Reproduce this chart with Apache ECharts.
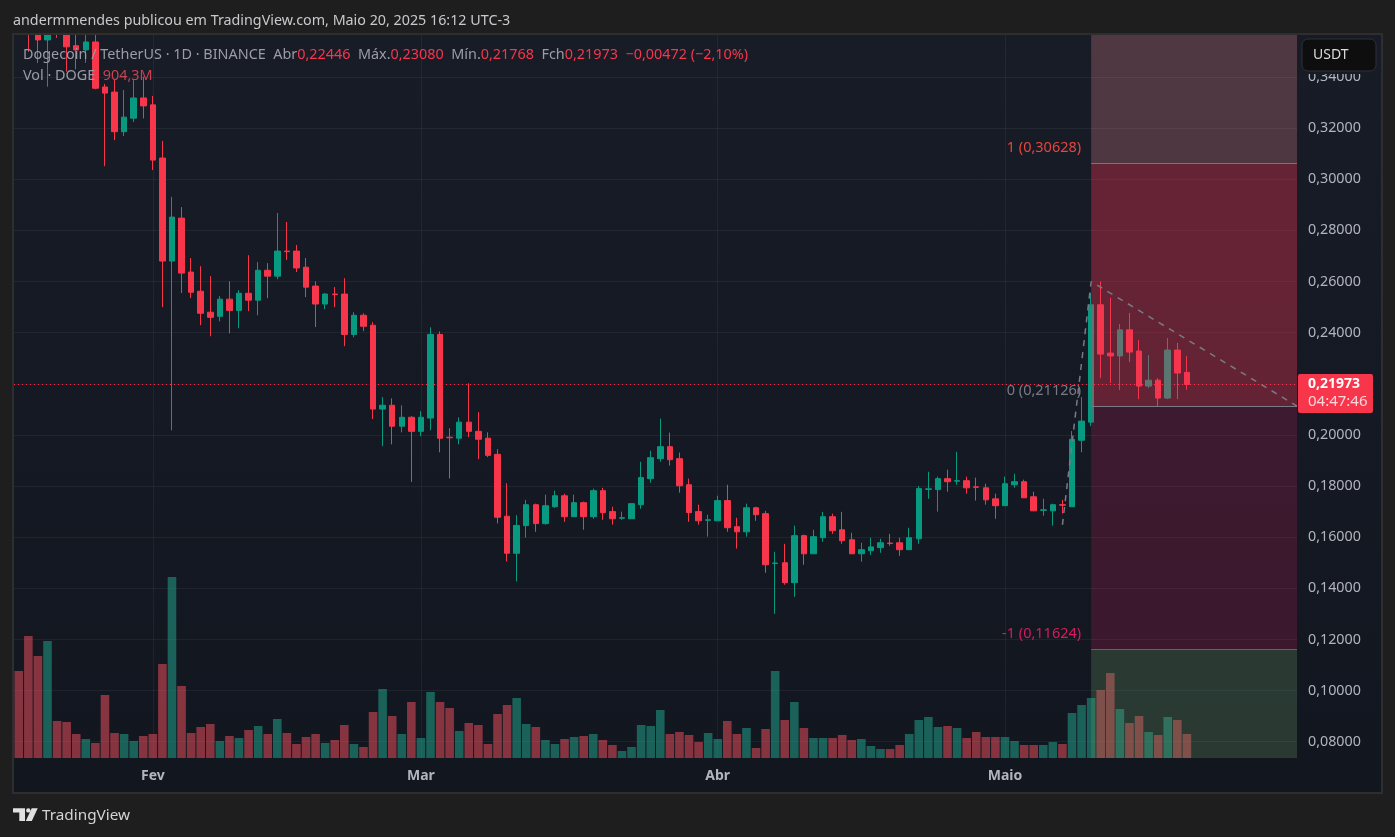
<!DOCTYPE html>
<html>
<head>
<meta charset="utf-8">
<title>DOGE/USDT</title>
<style>
  html, body { margin: 0; padding: 0; background: #1e1e1e; }
  #main { width: 1395px; height: 837px; }
</style>
<script src="https://cdn.jsdelivr.net/npm/echarts@6/dist/echarts.min.js"></script>
</head>
<body>
<div id="main"></div>
<script>
const FONT = '"Noto Sans", sans-serif';

// daily candles from 18 Jan. the first few run above the visible pane
const opens = [
  .39, .375, .368, .3545, .375, .372, .35224, .3506, .3537, .3361,
  .3341, .3186, .3239, .3318, .3291, .3083, .268, .2848, .2637, .2562,
  .248, .2464, .2531, .2487, .2554, .2527, .2644, .2621, .2719, .2719,
  .2656, .2582, .2512, .2551, .2551, .2393, .2468, .2429, .2101, .2116,
  .2034, .2069, .2014, .2066, .2393, .1991, .1987, .205, .2014, .1987,
  .1924, .1682, .1537, .1645, .1727, .1653, .1719, .1762, .168, .1735,
  .168, .1782, .17, .1674, .1672, .1727, .1829, .1907, .1954, .1907,
  .1805, .17, .1666, .1664, .1743, .1641, .1621, .1715, .1692, .1497,
  .15, .1422, .1606, .1535, .1598, .168, .1629, .159, .1535, .1547,
  .1559, .1577, .1578, .1551, .1594, .1787, .1786, .1829, .1819, .1821,
  .1797, .1793, .175, .1723, .1805, .1817, .1758, .1705, .1703, .1727,
  .1719, .1979, .205, .2509, .232, .2309, .2411, .2328, .2191, .2214,
  .2144, .2332, .22446
];
const closes = [
  .375, .36, .3545, .37, .365, .3518, .35056, .3537, .3356, .3337,
  .3186, .3243, .3318, .3287, .3075, .268, .2852, .2633, .2558, .2476,
  .246, .2531, .2487, .2554, .2527, .2644, .2621, .2719, .2717, .2653,
  .2578, .2512, .2551, .2549, .2393, .2468, .2425, .2101, .2116, .2034,
  .2069, .2014, .2069, .2393, .1987, .1989, .205, .2014, .1983, .192,
  .1678, .1537, .1646, .1727, .1653, .1723, .1762, .168, .1735, .168,
  .1782, .1696, .1672, .1676, .1731, .1833, .1911, .1954, .1903, .1801,
  .1696, .1664, .1668, .1743, .1637, .1621, .1715, .1688, .1492, .1499,
  .1422, .1606, .1535, .1602, .168, .1625, .1586, .1535, .1551, .1562,
  .1578, .1575, .1551, .1598, .179, .1789, .1829, .1817, .1821, .1793,
  .1795, .1746, .1723, .1809, .1817, .1754, .1703, .1707, .1727, .1725,
  .1983, .2054, .2509, .2316, .2309, .2411, .2324, .2191, .2214, .2144,
  .2332, .2242, .21973
];
const lows = [
  .36, .3498, .3455, .3362, .3553, .3421, .343, .3455, .3352, .3051,
  .3153, .3169, .3224, .3238, .3036, .25, .2018, .2555, .2535, .2429,
  .2386, .2444, .2397, .2417, .2484, .2468, .2535, .2609, .2684, .2637,
  .2539, .2422, .2492, .25, .2347, .2382, .2406, .2062, .1956, .1963,
  .201, .1816, .1995, .2018, .1932, .183, .1963, .1991, .1905, .1913,
  .1654, .1505, .1427, .1598, .1621, .1649, .1715, .166, .168, .1629,
  .1672, .1668, .1649, .1668, .1672, .1711, .1813, .1895, .188, .1774,
  .166, .1649, .1602, .1664, .1621, .1555, .1602, .1664, .1461, .13,
  .1414, .1367, .1492, .1535, .1582, .1613, .1574, .1535, .1504, .1531,
  .1539, .1566, .1527, .1551, .1574, .175, .17, .1778, .1805, .177,
  .1743, .1727, .1672, .1723, .1793, .1754, .1703, .1684, .1645, .1692,
  .1719, .1932, .2034, .2222, .2203, .2175, .2285, .214, .2183, .2112,
  .214, .214, .21768
];
const highs = [
  .395, .38, .372, .375, .378, .375, .362, .365, .362, .3373,
  .3391, .3349, .3388, .3401, .3326, .315, .2931, .2891, .2692, .266,
  .2621, .2543, .2601, .2566, .2703, .2676, .2672, .2868, .2833, .2743,
  .2692, .2601, .2555, .2578, .2613, .248, .2476, .2441, .2148, .2143,
  .2116, .2073, .2093, .2421, .2405, .2026, .2069, .2202, .2089, .201,
  .1944, .1811, .1686, .1746, .1731, .1766, .1782, .177, .1766, .1739,
  .179, .1793, .1719, .17, .1731, .1895, .1938, .2064, .2009, .1931,
  .1829, .1727, .1688, .1762, .1805, .1676, .1731, .1719, .1703, .1543,
  .1574, .1645, .161, .1629, .1699, .1692, .1699, .1617, .1578, .1598,
  .1594, .1613, .1598, .1637, .18, .1856, .1837, .1864, .1934, .1837,
  .1833, .1809, .177, .1837, .1848, .1825, .1778, .175, .1731, .1746,
  .2015, .2148, .2555, .26, .2536, .2434, .2477, .2371, .2312, .2222,
  .2379, .236, .2308
];
// volume, millions of DOGE
const volumes = [
  3278, 4597, 3843, 4409, 1394, 1356, 904, 716, 565, 2374,
  942, 904, 641, 829, 904, 3542, 6820, 2713, 942, 1168,
  1281, 641, 829, 754, 1055, 1206, 904, 1470, 942, 528,
  791, 904, 565, 678, 1243, 528, 414, 1733, 2600, 1583,
  904, 2110, 754, 2487, 2110, 1884, 1017, 1319, 1243, 528,
  1658, 1997, 2261, 1281, 1168, 678, 528, 716, 791, 829,
  904, 678, 490, 264, 414, 1243, 1206, 1809, 904, 980,
  867, 603, 942, 716, 1394, 904, 1130, 377, 1093, 3278,
  1432, 2110, 1130, 754, 754, 754, 867, 678, 716, 452,
  339, 339, 490, 904, 1432, 1545, 1168, 1206, 1130, 754,
  980, 791, 791, 791, 641, 490, 490, 490, 603, 528,
  1696, 1997, 2261, 2562, 3203, 1846, 1319, 1583, 980, 867,
  1545, 1432, 904.3
];

const FUTURE_BARS = 11; // empty space on the right of the last candle
const categories = [];
for (let i = 0; i < opens.length + FUTURE_BARS; i++) categories.push(String(i));

const monthTicks = [14, 42, 73, 103];
const monthLabels = ['Fev', 'Mar', 'Abr', 'Maio'];
const priceTicks = [.08, .10, .12, .14, .16, .18, .20, .22, .24, .26, .28, .30, .32, .34];

const PRICE_MIN = .07362;
const PRICE_MAX = .35682;
const VOLUME_MAX = 27280;
const X_MIN = -0.5;
const X_MAX = categories.length - 0.5;

const lastClose = 0.21973;
// position tool: starts on the candle of 10 May
const toolStart = 112;
const levelPrices = [.30628, .21126, .11624];
const levelTexts = ['1 (0,30628)', '0 (0,21126)', '-1 (0,11624)'];
const levelColors = ['#e8444c', '#787b86', '#e91e63'];
const levelTextColors = ['#e8453c', '#787b86', '#d81b60'];
const bandFills = [
  'rgba(232,133,140,.27)',
  'rgba(242,54,84,.36)',
  'rgba(233,30,99,.19)',
  'rgba(110,162,109,.25)'
];
const bandEdges = [PRICE_MAX, .30628, .21126, .11624, PRICE_MIN];
// the dashed pattern lines
const patternX = [109, 112, X_MAX];
const patternY = [.1648, .26, .21126];

const UP = '#089981';
const DOWN = '#f7364b';
const VOL_UP = 'rgba(34,171,148,.5)';
const VOL_DOWN = 'rgba(247,82,95,.5)';
const AXIS_TEXT = '#b2b5be';
const GRID_LINE = 'rgba(240,243,250,.06)';
const LEGEND_TEXT = '#9a9da6';
const TEXT_FONT = '14.4px ' + FONT;

const candleData = opens.map((o, i) => [o, closes[i], lows[i], highs[i]]);
const bandData = bandFills.map((c, i) => [toolStart, X_MAX, bandEdges[i], bandEdges[i + 1]]);

function renderBand(params, api) {
  const a = api.coord([api.value(0), api.value(2)]);
  const b = api.coord([api.value(1), api.value(3)]);
  return {
    type: 'rect',
    shape: { x: a[0], y: a[1], width: b[0] - a[0], height: b[1] - a[1] },
    style: { fill: bandFills[params.dataIndex] }
  };
}

function renderLevelText(params, api) {
  const p = api.coord([api.value(0), api.value(1)]);
  return {
    type: 'text',
    x: p[0] - 10,
    y: p[1] - 15,
    style: {
      text: levelTexts[params.dataIndex],
      fill: levelTextColors[params.dataIndex],
      font: '14.5px ' + FONT,
      align: 'right',
      verticalAlign: 'middle'
    }
  };
}

// horizontal price line, snapped to the pixel so it stays 1px wide
function flatLine(fromX, price, color, dash, z) {
  return {
    type: 'custom',
    xAxisIndex: 1,
    yAxisIndex: 0,
    data: [[fromX, X_MAX, price]],
    silent: true,
    clip: false,
    z: z,
    renderItem: (params, api) => {
      const a = api.coord([api.value(0), api.value(2)]);
      const b = api.coord([api.value(1), api.value(2)]);
      const y = Math.floor(a[1]) + 0.5;
      return {
        type: 'line',
        shape: { x1: a[0], y1: y, x2: b[0], y2: y },
        style: { stroke: color, lineWidth: 1, lineDash: dash }
      };
    }
  };
}

const legendFirst = '{a|Dogecoin / TetherUS · 1D · BINANCE  Abr}{b|0,22446}{a|  Máx.}{b|0,23080}{a|  Mín.}{b|0,21768}{a|  Fch}{b|0,21973}{b|  −0,00472 (−2,10%)}';
const legendSecond = '{a|Vol · DOGE}{c|  904,3M}';

const option = {
  animation: false,
  backgroundColor: '#1e1e1e',
  textStyle: { fontFamily: FONT },
  grid: { left: 14, right: 98, top: 34, bottom: 79 },
  xAxis: [
    {
      type: 'category',
      data: categories,
      show: false
    },
    {
      type: 'value',
      min: X_MIN,
      max: X_MAX,
      position: 'bottom',
      axisLine: { show: false },
      axisTick: { show: false, customValues: monthTicks },
      splitLine: { show: true, lineStyle: { color: GRID_LINE, width: 1 } },
      axisLabel: {
        customValues: monthTicks,
        formatter: v => monthLabels[monthTicks.indexOf(v)],
        color: AXIS_TEXT,
        fontFamily: FONT,
        fontSize: 14,
        fontWeight: 'bold',
        margin: 11
      }
    }
  ],
  yAxis: [
    {
      type: 'value',
      position: 'right',
      min: PRICE_MIN,
      max: PRICE_MAX,
      axisLine: { show: false },
      axisTick: { show: false, customValues: priceTicks },
      splitLine: { show: true, lineStyle: { color: GRID_LINE, width: 1 } },
      axisLabel: {
        customValues: priceTicks,
        formatter: v => v.toFixed(5).replace('.', ','),
        color: AXIS_TEXT,
        fontFamily: FONT,
        fontSize: 14.3,
        margin: 11,
        padding: [0, 0, 5, 0]
      }
    },
    {
      type: 'value',
      min: 0,
      max: VOLUME_MAX,
      show: false
    }
  ],
  series: [
    flatLine(X_MIN, lastClose, DOWN, [1, 3], 1),
    {
      type: 'bar',
      xAxisIndex: 0,
      yAxisIndex: 1,
      data: volumes,
      barWidth: 8.6,
      silent: true,
      z: 2,
      itemStyle: {
        color: p => (closes[p.dataIndex] >= opens[p.dataIndex] ? VOL_UP : VOL_DOWN)
      }
    },
    {
      type: 'candlestick',
      xAxisIndex: 0,
      yAxisIndex: 0,
      data: candleData,
      barWidth: 6,
      silent: true,
      z: 3,
      itemStyle: {
        color: UP,
        color0: DOWN,
        borderColor: UP,
        borderColor0: DOWN,
        borderWidth: 1
      }
    },
    {
      type: 'custom',
      xAxisIndex: 1,
      yAxisIndex: 0,
      data: bandData,
      renderItem: renderBand,
      silent: true,
      clip: true,
      z: 5
    },
    flatLine(toolStart, levelPrices[0], levelColors[0], null, 6),
    flatLine(toolStart, levelPrices[1], levelColors[1], null, 6),
    flatLine(toolStart, levelPrices[2], levelColors[2], null, 6),
    {
      type: 'line',
      xAxisIndex: 1,
      yAxisIndex: 0,
      data: patternX.map((x, i) => [x, patternY[i]]),
      symbol: 'none',
      silent: true,
      z: 7,
      lineStyle: { color: '#787b86', type: [6, 6], width: 1.5 }
    },
    {
      type: 'custom',
      xAxisIndex: 1,
      yAxisIndex: 0,
      data: levelPrices.map(p => [toolStart, p]),
      renderItem: renderLevelText,
      silent: true,
      clip: false,
      z: 8
    }
  ],
  graphic: [
    // pane behind everything
    {
      type: 'rect',
      z: -10,
      silent: true,
      shape: { x: 13, y: 34, width: 1369, height: 759 },
      style: {
        fill: {
          type: 'linear', x: 0, y: 0, x2: 0, y2: 1,
          colorStops: [{ offset: 0, color: '#181c27' }, { offset: 1, color: '#12161f' }]
        },
        stroke: '#2e2e2e',
        lineWidth: 2
      }
    },
    // candles that run off the top are hidden by the header strip
    {
      type: 'rect',
      z: 18,
      silent: true,
      shape: { x: 0, y: 0, width: 1395, height: 33 },
      style: { fill: '#1e1e1e' }
    },
    {
      type: 'rect',
      z: 18,
      silent: true,
      shape: { x: 12, y: 33, width: 1371, height: 2 },
      style: { fill: '#2e2e2e' }
    },
    {
      type: 'text',
      z: 20,
      silent: true,
      x: 13,
      y: 21,
      style: {
        text: 'andermmendes publicou em TradingView.com, Maio 20, 2025 16:12 UTC-3',
        fill: '#c8c9cc',
        font: '14.3px ' + FONT,
        verticalAlign: 'middle'
      }
    },
    {
      type: 'text',
      z: 20,
      silent: true,
      x: 23,
      y: 55,
      style: {
        text: legendFirst,
        verticalAlign: 'middle',
        rich: {
          a: { fill: LEGEND_TEXT, font: TEXT_FONT },
          b: { fill: DOWN, font: TEXT_FONT }
        }
      }
    },
    {
      type: 'text',
      z: 20,
      silent: true,
      x: 23,
      y: 76,
      style: {
        text: legendSecond,
        verticalAlign: 'middle',
        rich: {
          a: { fill: LEGEND_TEXT, font: TEXT_FONT },
          c: { fill: '#c8434f', font: TEXT_FONT }
        }
      }
    },
    // currency button on the price scale, its backing cuts the top tick label
    {
      type: 'rect',
      z: 19,
      silent: true,
      shape: { x: 1298, y: 35, width: 83, height: 39 },
      style: { fill: '#171b26' }
    },
    {
      type: 'rect',
      z: 20,
      silent: true,
      shape: { x: 1302, y: 39, width: 74, height: 32, r: 6 },
      style: { fill: '#0e0e0e', stroke: '#2e3038', lineWidth: 1 }
    },
    {
      type: 'text',
      z: 21,
      silent: true,
      x: 1313,
      y: 55,
      style: { text: 'USDT', fill: '#dbdbdb', font: '14px ' + FONT, verticalAlign: 'middle' }
    },
    // last price tag
    {
      type: 'rect',
      z: 20,
      silent: true,
      shape: { x: 1298, y: 374, width: 75, height: 39, r: 2 },
      style: { fill: DOWN }
    },
    {
      type: 'text',
      z: 21,
      silent: true,
      x: 1308,
      y: 384,
      style: { text: '0,21973', fill: '#ffffff', font: 'bold 14px ' + FONT, verticalAlign: 'middle' }
    },
    {
      type: 'text',
      z: 21,
      silent: true,
      x: 1308,
      y: 402,
      style: { text: '04:47:46', fill: '#fdd5da', font: '15px ' + FONT, verticalAlign: 'middle' }
    },
    // logo and name in the footer
    {
      type: 'polygon',
      z: 20,
      silent: true,
      shape: { points: [[13, 808.3], [25, 808.3], [25, 821], [19.3, 821], [19.3, 812.6], [13, 812.6]] },
      style: { fill: '#e0e0e0' }
    },
    {
      type: 'circle',
      z: 20,
      silent: true,
      shape: { cx: 28.3, cy: 810.4, r: 2.2 },
      style: { fill: '#e0e0e0' }
    },
    {
      type: 'polygon',
      z: 20,
      silent: true,
      shape: { points: [[31.7, 808.3], [37.7, 808.3], [31.8, 821], [25.8, 821]] },
      style: { fill: '#e0e0e0' }
    },
    {
      type: 'text',
      z: 20,
      silent: true,
      x: 42,
      y: 816,
      style: { text: 'TradingView', fill: '#d4d4d4', font: '15.3px ' + FONT, verticalAlign: 'middle' }
    }
  ]
};

const myChart = echarts.init(document.getElementById('main'));
myChart.setOption(option);
</script>
</body>
</html>
